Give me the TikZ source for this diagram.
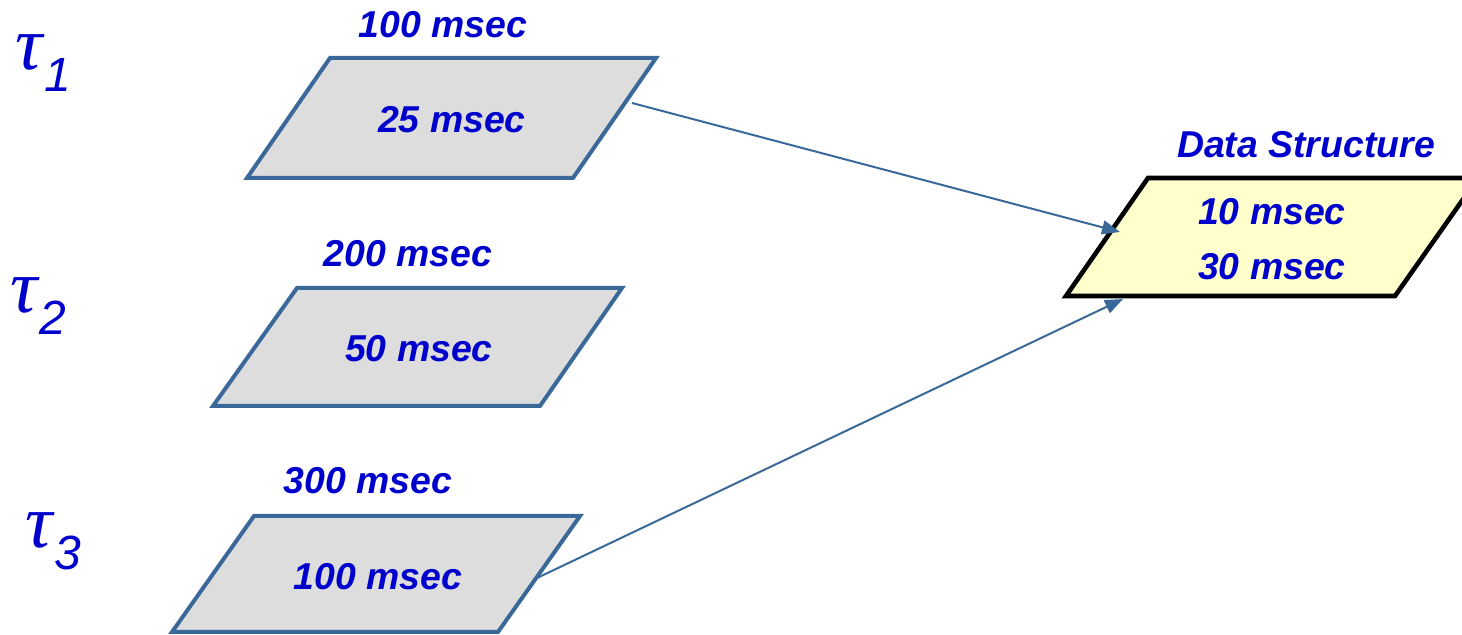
\documentclass[tikz,border=0pt]{standalone}
\usepackage{fontspec}
\setmainfont{Liberation Sans}
\newfontfamily\greekfont{Liberation Serif}
\usetikzlibrary{arrows.meta}
\definecolor{edgeblue}{HTML}{3A6999}
\definecolor{textblue}{HTML}{0000CC}
\definecolor{boxgray}{HTML}{DDDDDD}
\definecolor{boxyellow}{HTML}{FFFFCC}
\newcommand{\tasksym}[1]{{\greekfont\itshape\fontsize{38}{38}\selectfont τ}\kern1pt\raisebox{-11pt}{\fontsize{24}{24}\selectfont\itshape #1}}
\begin{document}
\begin{tikzpicture}[x=0.5pt,y=-0.5pt,
  taskbox/.style={draw=edgeblue,fill=boxgray,line width=2pt,line join=miter},
  storebox/.style={draw=black,fill=boxyellow,line width=2.3pt},
  lbl/.style={text=textblue,font=\fontsize{18.7}{20}\selectfont\bfseries\itshape,inner sep=0pt},
  link/.style={draw=edgeblue,line width=1pt,-{Triangle[length=9pt,width=7pt]}},
  tasklbl/.style={text=textblue,inner sep=0pt,anchor=base west}]
\useasboundingbox (0,0) rectangle (1462,635);

% task frames
\path[taskbox] (330,58) -- (656,58) -- (573,178) -- (247,178) -- cycle;
\path[taskbox] (297,288) -- (622,288) -- (540,406) -- (213,406) -- cycle;
\path[taskbox] (254,516) -- (580,516) -- (498,632) -- (172,632) -- cycle;

% shared data structure (runs past the right edge)
\begin{scope}
  \clip (0,0) rectangle (1462,635);
  \path[storebox] (1148,178) -- (1478,178) -- (1395,296) -- (1066,296) -- cycle;
\end{scope}

% labels
\node[lbl] (p1) at (443,25) {100 msec};
\node[lbl] (c1) at (452,120) {25 msec};
\node[lbl] (p2) at (408,254) {200 msec};
\node[lbl] (c2) at (419,349) {50 msec};
\node[lbl] (p3) at (368,481) {300 msec};
\node[lbl] (c3) at (378,577) {100 msec};
\node[lbl] (ds) at (1306,145) {Data Structure};
\node[lbl] (d1) at (1272,212) {10 msec};
\node[lbl] (d2) at (1272,267) {30 msec};

\node[tasklbl] (t1) at (15,70) {\tasksym{1}};
\node[tasklbl] (t2) at (10,313) {\tasksym{2}};
\node[tasklbl] (t3) at (25,548) {\tasksym{3}};

% access links
\coordinate (out1) at (632,103);
\coordinate (out3) at (537,578);
\coordinate (in1) at (1120,232);
\coordinate (in3) at (1123,299);
\draw[link] (out1) -- (in1);
\draw[link] (out3) -- (in3);
\end{tikzpicture}
\end{document}
